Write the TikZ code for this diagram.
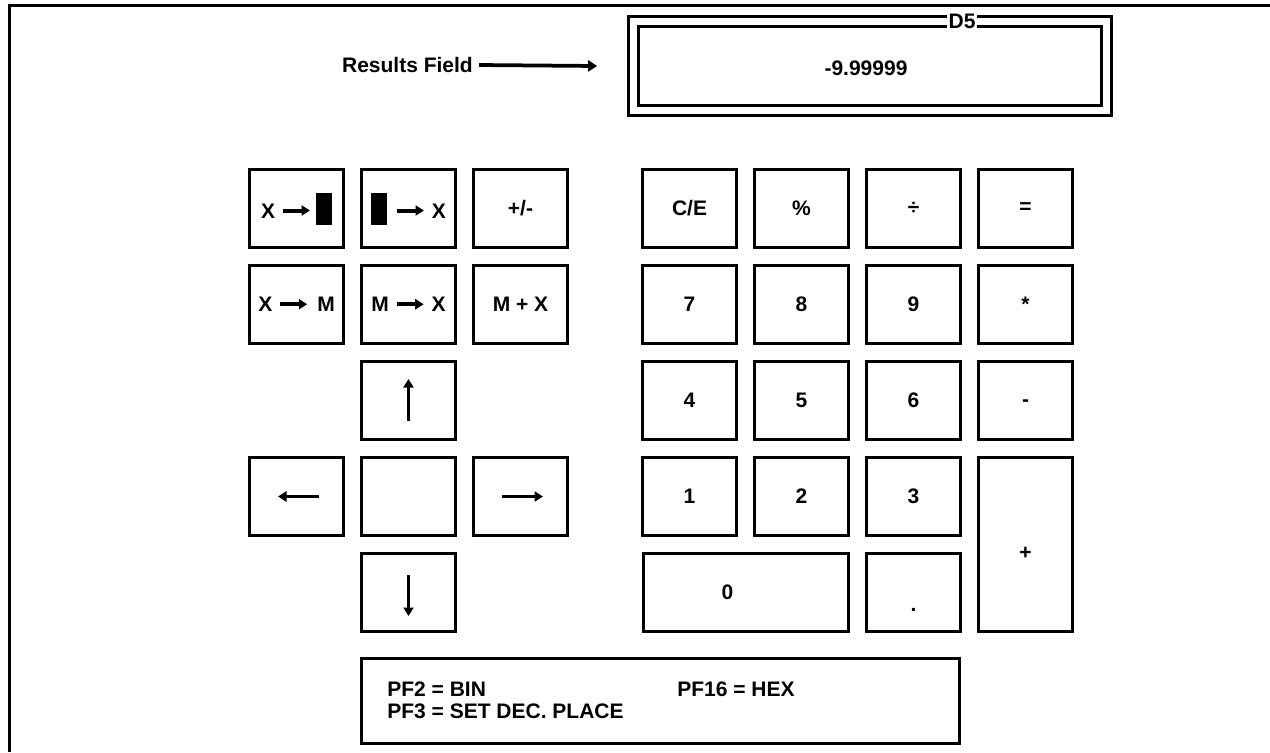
\documentclass[tikz,border=0pt]{standalone}
\usepackage{fontspec}
\setmainfont{Liberation Sans}
\usetikzlibrary{arrows.meta}

\tikzset{
  key/.style={draw, line width=0.06cm, minimum width=1.88cm, minimum height=1.56cm, inner sep=0pt},
  display/.style={draw, double, double distance=0.15cm, line width=0.055cm, minimum width=9.46cm, minimum height=1.78cm},
  pointer/.style={line width=0.075cm, -{Triangle[length=0.18cm, width=0.22cm]}},
  dirarrow/.style={line width=0.07cm, -{Triangle[length=0.17cm, width=0.2cm]}},
  pftext/.style={inner sep=0pt}
}
\newcommand{\keyarr}{\tikz[baseline={(0,-0.15cm)}]\draw [line width=0.08cm, -{Triangle[length=0.17cm, width=0.2cm]}] (0,0) -- (0.54cm,0);}
\newcommand{\keyblock}{\rule[-0.13cm]{0.32cm}{0.64cm}}

\begin{document}
\begin{tikzpicture}[x=0.02cm, y=-0.02cm, font=\fontsize{11.95}{14}\selectfont\bfseries]
\useasboundingbox (0,0) rectangle (1270,752);

\draw [line width=0.06cm] (1270,5.5) -- (9.5,5.5) -- (9.5,752);

\node [display] (result) at (870,66) {};
\node (value) at (866,68) {-9.99999};
\node [fill=white, inner sep=0.04cm] (dfive) at (962,21) {D5};
\node (fieldlabel) at (479,65) [left]{Results Field};
\draw [pointer] (fieldlabel.east) -- ([xshift=-0.7cm]result.west);

\node [key] (tobox) at (296.5,208.5) {X\hspace{0.12cm}\keyarr\hspace{0.08cm}\keyblock};
\node [key] (frombox) at (408.5,208.5) {\keyblock\hspace{0.16cm}\keyarr\hspace{0.12cm}X};
\node [key] (sign) at (520.5,208.5) {+/-};
\node [key] (tomem) at (296.5,304.5) {X\hspace{0.12cm}\keyarr\hspace{0.16cm}M};
\node [key] (frommem) at (408.5,304.5) {M\hspace{0.12cm}\keyarr\hspace{0.12cm}X};
\node [key] (addmem) at (520.5,304.5) {M + X};

\node [key] (up) at (408.5,400.5) {};
\node [key] (left) at (296.5,496.5) {};
\node [key] (middle) at (408.5,496.5) {};
\node [key] (right) at (520.5,496.5) {};
\node [key] (down) at (408.5,592.5) {};
\draw [dirarrow] ([yshift=-0.41cm]up.center) -- ([yshift=0.43cm]up.center);
\draw [dirarrow] ([xshift=0.45cm]left.center) -- ([xshift=-0.37cm]left.center);
\draw [dirarrow] ([xshift=-0.37cm]right.center) -- ([xshift=0.45cm]right.center);
\draw [dirarrow] ([yshift=0.35cm]down.center) -- ([yshift=-0.47cm]down.center);

\node [key] (clear) at (689.5,208.5) {C/E};
\node [key] (percent) at (801.5,208.5) {\%};
\node [key] (divide) at (913.5,208.5) {÷};
\node [key] (equals) at (1025.5,208.5) {=};
\node [key] (seven) at (689.5,304.5) {7};
\node [key] (eight) at (801.5,304.5) {8};
\node [key] (nine) at (913.5,304.5) {9};
\node [key] (times) at (1025.5,304.5) {*};
\node [key] (four) at (689.5,400.5) {4};
\node [key] (five) at (801.5,400.5) {5};
\node [key] (six) at (913.5,400.5) {6};
\node [key, label={[yshift=-0.05cm]center:-}] (minus) at (1025.5,400.5) {};
\node [key] (one) at (689.5,496.5) {1};
\node [key] (two) at (801.5,496.5) {2};
\node [key] (three) at (913.5,496.5) {3};
\node [key, minimum width=4.12cm, label={[xshift=-0.37cm]center:0}] (zero) at (746,592.5) {};
\node [key, label={[yshift=-0.35cm]center:.}] (point) at (913.5,592.5) {};
\node [key, minimum height=3.48cm, label={[yshift=-0.18cm]center:+}] (plus) at (1025.5,544.5) {};

\node [draw, line width=0.06cm, minimum width=11.96cm, minimum height=1.7cm] (pfbox) at (660.5,701) {};
\node [pftext] (pftwo) at (387,689) [right]{PF2 = BIN};
\node [pftext] (pfsixteen) at (677,689) [right]{PF16 = HEX};
\node [pftext] (pfthree) at (387,711) [right]{PF3 = SET DEC. PLACE};
\end{tikzpicture}
\end{document}
